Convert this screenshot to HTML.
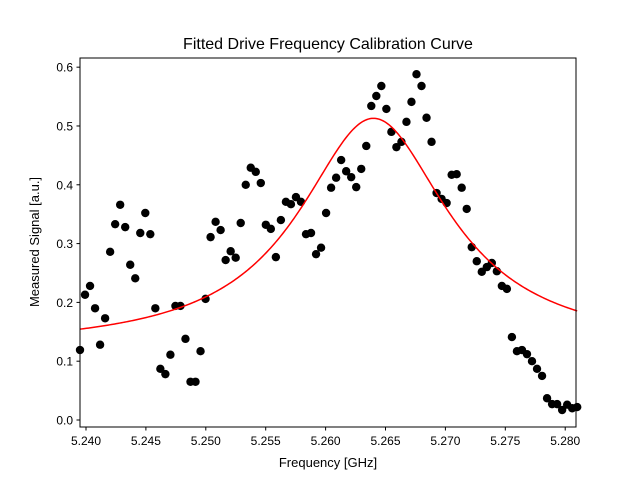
<!DOCTYPE html>
<html><head><meta charset="utf-8"><style>
body{margin:0;background:#fff;}
svg text{font-family:"Liberation Sans","DejaVu Sans",sans-serif;fill:#000;}
</style></head><body>
<svg id="chart" width="640" height="480" xmlns="http://www.w3.org/2000/svg">
<rect width="640" height="480" fill="#fff"/>
<text x="328" y="49" font-size="16" text-anchor="middle">Fitted Drive Frequency Calibration Curve</text>
<g id="plot"></g>
<rect x="80" y="58" width="496" height="369" fill="none" stroke="#000" stroke-width="1"/>
<text x="328" y="467" font-size="13" text-anchor="middle">Frequency [GHz]</text>
<text x="0" y="0" font-size="13" text-anchor="middle" transform="translate(39,242) rotate(-90)">Measured Signal [a.u.]</text>
</svg>
<script>
const freqStart = 5.2395;
const freqEnd = 5.281;
const signalValues = [0.119,0.213,0.228,0.190,0.128,0.173,0.286,0.333,0.366,0.328,0.264,0.241,0.318,0.352,0.316,0.190,0.087,0.078,0.111,0.194,0.194,0.138,0.065,0.065,0.117,0.206,0.311,0.337,0.323,0.272,0.287,0.276,0.335,0.400,0.429,0.422,0.403,0.332,0.325,0.277,0.340,0.371,0.367,0.379,0.371,0.316,0.318,0.282,0.293,0.352,0.395,0.412,0.442,0.423,0.413,0.396,0.427,0.466,0.534,0.551,0.568,0.529,0.490,0.464,0.473,0.507,0.541,0.588,0.568,0.514,0.473,0.386,0.376,0.369,0.417,0.418,0.395,0.359,0.294,0.270,0.252,0.260,0.267,0.253,0.228,0.223,0.141,0.117,0.119,0.112,0.100,0.087,0.075,0.037,0.027,0.027,0.017,0.026,0.020,0.022];
const fitAmplitude = 0.393;
const fitCenter = 5.2640;
const fitWidth = 0.0076;
const fitOffset = 0.12;
const xTicks = [5.240,5.245,5.250,5.255,5.260,5.265,5.270,5.275,5.280];
const yTicks = [0.0,0.1,0.2,0.3,0.4,0.5,0.6];

const X0=80,X1=576,Y0=427,Y1=58;
const xMin=5.2395,xMax=5.2809,yMin=-0.0119,yMax=0.6156;
function sx(v){return X0+(v-xMin)/(xMax-xMin)*(X1-X0);}
function sy(v){return Y0-(v-yMin)/(yMax-yMin)*(Y0-Y1);}
const NS="http://www.w3.org/2000/svg";
const g=document.getElementById('plot');
function mk(t,a){const e=document.createElementNS(NS,t);for(const k in a)e.setAttribute(k,a[k]);return e;}

xTicks.forEach(t=>{
  const x=sx(t);
  const l=mk('line',{x1:x,x2:x,y1:427,y2:430.5,stroke:'#000'});
  
  
  g.appendChild(l);
  const tx=mk('text',{x:x,y:445,'font-size':'12','text-anchor':'middle'});
  
  
  tx.textContent=t.toFixed(3);g.appendChild(tx);
});
yTicks.forEach(t=>{
  const y=sy(t);
  const l=mk('line',{x1:76.5,x2:80,y1:y,y2:y,stroke:'#000'});
  
  
  g.appendChild(l);
  const tx=mk('text',{x:73,y:y+4.5,'font-size':'12','text-anchor':'end'});
  
  
  tx.textContent=t.toFixed(1);g.appendChild(tx);
});

const n=signalValues.length;
signalValues.forEach((v,i)=>{
  const f=freqStart+(freqEnd-freqStart)*i/(n-1);
  const c=mk('circle',{cx:sx(f),cy:sy(v),r:4.2,fill:'#000'});
  
  
  g.appendChild(c);
});

let d='';
for(let i=0;i<=300;i++){
  const f=freqStart+(freqEnd-freqStart)*i/300;
  const dx=f-fitCenter;
  const v=fitAmplitude*fitWidth*fitWidth/(dx*dx+fitWidth*fitWidth)+fitOffset;
  d+=(i?'L':'M')+sx(f).toFixed(2)+','+sy(v).toFixed(2);
}
const p=mk('path',{d:d,fill:'none',stroke:'#ff0000','stroke-width':1.5});


g.appendChild(p);
</script>
</body></html>
